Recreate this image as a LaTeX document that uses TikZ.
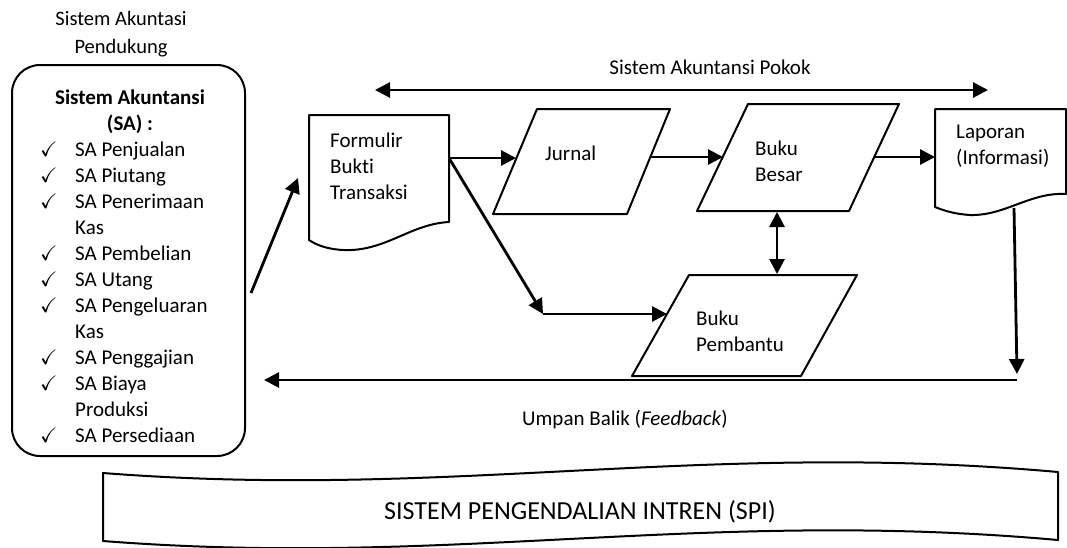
\documentclass[tikz,border=0pt]{standalone}
\usepackage{fontspec}
\usepackage{amssymb}
\setmainfont{Carlito}[Ligatures=NoCommon]
\usetikzlibrary{calc}
\usetikzlibrary{positioning}
\usetikzlibrary{arrows.meta}

\newcommand{\chk}{\makebox[35pt][l]{$\checkmark$}}

\begin{document}
\begin{tikzpicture}[x=1pt, y=-1pt,
		    every node/.style={font=\fontsize{21}{26}\selectfont, inner sep=0pt},
		    docline/.style={line width=2pt, line join=round},
		    arr/.style={line width=2.8pt, -{Triangle[length=15pt,width=15pt]}},
		    darr/.style={line width=2.8pt, {Triangle[length=15pt,width=15pt]}-{Triangle[length=15pt,width=15pt]}}]
 \useasboundingbox (0,0) rectangle (1067,547);

 % sistem akuntansi pendukung
 \node[align=center, font=\fontsize{20.5}{28}\selectfont] (pendukung) at (121,34) {Sistem Akuntasi\\Pendukung};
 \node[draw, rounded corners=28pt, line width=2pt, minimum width=233pt, minimum height=391pt]
      (sa) at (128.5,260.5) {};
 \node[align=center, font=\fontsize{21}{26}\selectfont\bfseries] (sa-title) at (130,111.5)
      {Sistem Akuntansi\\(SA) :};
 \node[align=left, anchor=north west] (sa-list) at (40,142)
      {\chk SA Penjualan\\
       \chk SA Piutang\\
       \chk SA Penerimaan\\
       \hspace*{35pt}Kas\\
       \chk SA Pembelian\\
       \chk SA Utang\\
       \chk SA Pengeluaran\\
       \hspace*{35pt}Kas\\
       \chk SA Penggajian\\
       \chk SA Biaya\\
       \hspace*{35pt}Produksi\\
       \chk SA Persediaan};

 % formulir
 \draw[docline] (309,115) -- (449,115) -- (449,222)
       .. controls (410,224) and (385,252) .. (343,250)
       .. controls (325,249) and (315,244) .. (309,240) -- cycle;
 \node[align=left, anchor=west] (formulir) at (330,166) {Formulir\\Bukti\\Transaksi};
 \coordinate (form-r) at (449,158);

 % sistem akuntansi pokok
 \node (pokok) at (710,67) {Sistem Akuntansi Pokok};
 \coordinate (pokok-l) at (375,90);
 \coordinate (pokok-r) at (988,90);

 % jurnal
 \draw[docline] (537,109) -- (670,109) -- (627,214) -- (493,214) -- cycle;
 \node[anchor=west] (jurnal) at (545,153) {Jurnal};
 \coordinate (jurnal-w) at (516,158);
 \coordinate (jurnal-e) at (651,157);

 % buku besar
 \draw[docline] (748,104) -- (899,104) -- (849,211) -- (697,211) -- cycle;
 \node[align=left, anchor=west] (besar) at (755,161.5) {Buku\\Besar};
 \coordinate (besar-w) at (723,157);
 \coordinate (besar-e) at (874,157);
 \coordinate (besar-s) at (777,212);

 % buku pembantu
 \draw[docline] (689,275) -- (857,275) -- (801,376) -- (632,376) -- cycle;
 \node[align=left, anchor=west] (pembantu) at (696,331.5) {Buku\\Pembantu};
 \coordinate (pembantu-n) at (777,274);
 \coordinate (pembantu-w) at (667,314);

 % laporan
 \draw[docline] (935,109) -- (1066,109) -- (1066,194)
       .. controls (1030,192) and (1005,216) .. (970,215)
       .. controls (955,214) and (945,211) .. (935,207) -- cycle;
 \node[align=left, anchor=west] (laporan) at (956,146.5) {Laporan\\(Informasi)};
 \coordinate (lap-l) at (935,157);
 \coordinate (lap-b) at (1014,208);

 % umpan balik
 \coordinate (fb-r) at (1017,380);
 \coordinate (bend) at (543,314);
 \node (umpan) at (625,420) {Umpan Balik (\textit{Feedback})};

 % SPI
 \draw[line width=2pt, line join=round] (103,473) .. controls (450,500) and (700,440) .. (1058,472)
       -- (1058,540) .. controls (700,508) and (450,568) .. (103,541) -- cycle;
 \node[font=\fontsize{26}{30}\selectfont] (spi) at (580,512) {SISTEM PENGENDALIAN INTREN (SPI)};

 % panah
 \draw[arr] ([xshift=5pt]sa.east |- 0,293) -- (298,178);
 \draw[darr] (pokok-l) -- (pokok-r);
 \draw[arr] (form-r) -- (jurnal-w);
 \draw[arr] (jurnal-e) -- (besar-w);
 \draw[arr] (besar-e) -- (lap-l);
 \draw[darr] (besar-s) -- (pembantu-n);
 \draw[arr] (form-r) -- (bend);
 \draw[arr] (bend) -- (pembantu-w);
 \draw[arr] (lap-b) -- (1017,374);
 \draw[arr] (fb-r) -- ([xshift=18pt]sa.east |- fb-r);
\end{tikzpicture}
\end{document}
